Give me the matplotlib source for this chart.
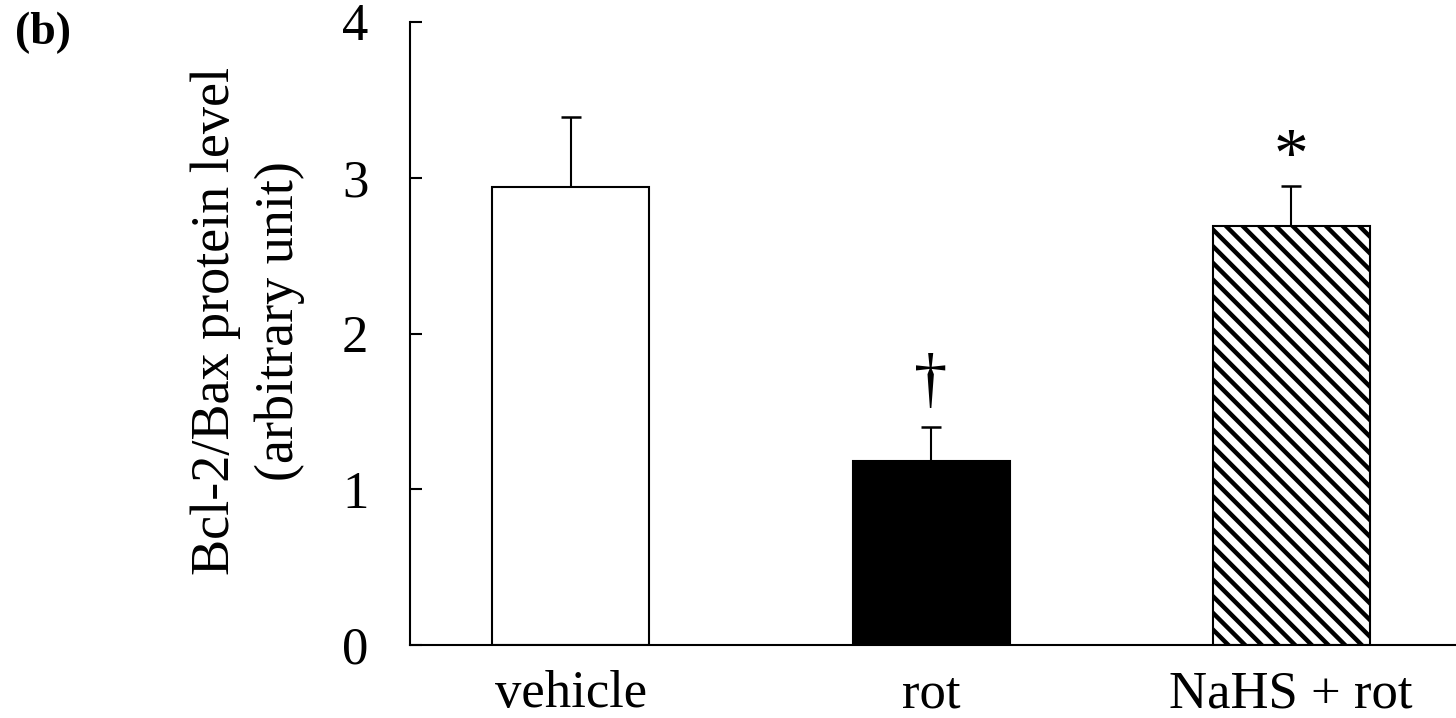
import matplotlib
matplotlib.use("Agg")
import matplotlib.pyplot as plt

groups = ["vehicle", "rot", "NaHS + rot"]
means = [2.94, 1.18, 2.69]
errors_up = [0.45, 0.22, 0.26]
marks = ["", "\u2020", "*"]
mark_y = [None, 1.68, 3.12]
mark_size = [0, 24, 25]
y_ticks = [0, 1, 2, 3, 4]

plt.rcParams["font.family"] = ["Liberation Serif", "DejaVu Serif"]
plt.rcParams["hatch.linewidth"] = 1.6

fig = plt.figure(figsize=(7.28, 3.59), dpi=200)
ax = fig.add_axes([410 / 1456, 1 - 645 / 718, 1 - 410 / 1456, (645 - 22) / 718])

x = list(range(len(groups)))
bars = ax.bar(x, means, width=0.436, color=["white", "black", "white"],
              edgecolor="black", linewidth=0.75, zorder=2)
bars[2].set_hatch("\\\\\\\\")

ax.errorbar(x, means, yerr=[[0] * len(means), errors_up], fmt="none",
            ecolor="black", elinewidth=0.75, capsize=3.5, capthick=0.9, zorder=1)

for xi, m, my, ms in zip(x, marks, mark_y, mark_size):
    if m:
        ax.text(xi, my, m, ha="center", va="center", fontsize=ms)

ax.set_xlim(-0.447, 2.458)
ax.set_ylim(0, 4)
ax.set_yticks(y_ticks)
ax.set_xticks(x)
ax.set_xticklabels(groups)
ax.tick_params(axis="y", direction="in", length=4.3, width=0.75, pad=15, labelsize=19)
ax.tick_params(axis="x", length=0, pad=9, labelsize=19)

for side in ["top", "right"]:
    ax.spines[side].set_visible(False)
for side in ["left", "bottom"]:
    ax.spines[side].set_linewidth(0.75)

ax.set_ylabel("Bcl-2/Bax protein level\n(arbitrary unit)", fontsize=19.5, linespacing=1.35)
ax.yaxis.set_label_coords(-0.1, 0.52)

fig.text(15 / 1456, 1 - 12 / 718, "(b)", fontsize=16.5, fontweight="bold", va="top", ha="left")

fig.savefig("out.png", dpi=200)
